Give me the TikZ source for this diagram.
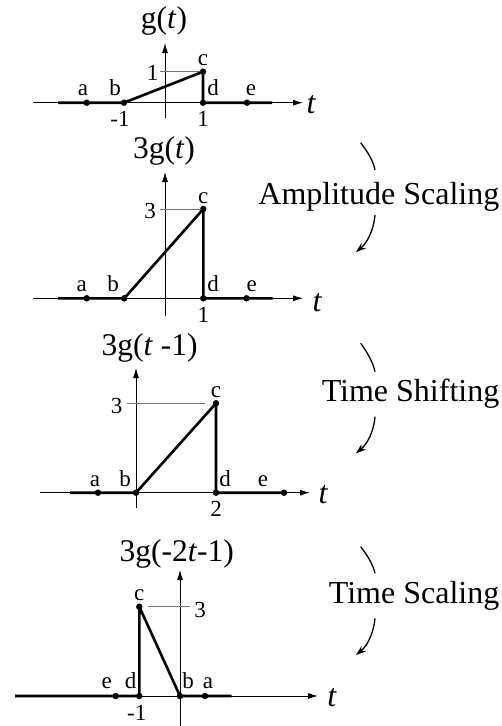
\documentclass[tikz,border=0pt]{standalone}
\usepackage{fontspec}
\setmainfont{Liberation Serif}
\usetikzlibrary{arrows.meta}
\begin{document}
\begin{tikzpicture}[x=1pt,y=-1pt,
  axis/.style={line width=0.9pt,-{Latex[length=10pt,width=6pt]}},
  vaxis/.style={line width=0.9pt,-{Latex[length=10pt,width=6pt]}},
  sig/.style={line width=2.6pt,line join=round},
  ptdot/.style={circle,fill=black,inner sep=0pt,minimum size=6.5pt},
  lbl/.style={font=\fontsize{23}{23}\selectfont,anchor=base,inner sep=0pt},
  ylbl/.style={font=\fontsize{23}{23}\selectfont,anchor=center,inner sep=0pt},
  gtick/.style={draw=black!55,line width=0.9pt},
  ttl/.style={font=\fontsize{31.5}{32}\selectfont,anchor=base,inner sep=0pt},
  tlab/.style={font=\fontsize{32}{32}\selectfont\itshape,anchor=base,inner sep=0pt},
  op/.style={font=\fontsize{32}{32}\selectfont,anchor=base east,inner sep=0pt},
  curv/.style={line width=1.3pt},
  curvar/.style={line width=1.3pt,-{Stealth[length=10pt,width=7pt]}},
]
\useasboundingbox (0,0) rectangle (501,726);

% ---------------- Plot 1: g(t)
\node[ttl] (t1) at (164,28) {g(\textit{t})};
\coordinate (h1s) at (33,102.7);
\coordinate (h1e) at (303,102.7);
\coordinate (v1s) at (165,118);
\coordinate (v1e) at (165,43);
\draw[axis] (h1s) -- (h1e);
\draw[vaxis] (v1s) -- (v1e);
\coordinate (s1l) at (58,102.7);
\coordinate (s1r) at (272,102.7);
\node[ptdot] (a1) at (86.7,102.7) {};
\node[ptdot] (b1) at (124,102.7) {};
\node[ptdot] (c1) at (203,71.7) {};
\node[ptdot] (d1) at (203,102.7) {};
\node[ptdot] (e1) at (247,102.7) {};
\coordinate (g1) at (160,71.7);
\draw[gtick] (g1) -- (c1.center);
\draw[sig] (s1l) -- (b1.center) -- (c1.center) -- (d1.center) -- (s1r);
\node[lbl] (la1) at (83,95) {a};
\node[lbl] (lb1) at (115,95) {b};
\node[lbl] (lc1) at (203,65) {c};
\node[lbl] (ld1) at (213,95) {d};
\node[lbl] (le1) at (251,95) {e};
\node[ylbl] (ly1) at (152.7,73) {1};
\node[lbl] (lx1a) at (120,126.7) {-1};
\node[lbl] (lx1b) at (203,126.7) {1};
\node[tlab] (tt1) at (311,113.5) {t};

% ---------------- Plot 2: 3g(t)
\node[ttl] (t2) at (164,158) {3g(\textit{t})};
\coordinate (h2s) at (33,298.3);
\coordinate (h2e) at (303,298.3);
\coordinate (v2s) at (165,316);
\coordinate (v2e) at (165,172);
\draw[axis] (h2s) -- (h2e);
\draw[vaxis] (v2s) -- (v2e);
\coordinate (s2l) at (58,298.3);
\coordinate (s2r) at (272.7,298.3);
\node[ptdot] (a2) at (86.7,298.3) {};
\node[ptdot] (b2) at (124.3,298.3) {};
\node[ptdot] (c2) at (203.3,209) {};
\node[ptdot] (d2) at (203.3,298.3) {};
\node[ptdot] (e2) at (246.5,298.3) {};
\coordinate (g2) at (160,209);
\draw[gtick] (g2) -- (c2.center);
\draw[sig] (s2l) -- (b2.center) -- (c2.center) -- (d2.center) -- (s2r);
\node[lbl] (la2) at (81.7,291.7) {a};
\node[lbl] (lb2) at (113,291.7) {b};
\node[lbl] (lc2) at (203.3,203.3) {c};
\node[lbl] (ld2) at (213,291.7) {d};
\node[lbl] (le2) at (251.7,291.7) {e};
\node[ylbl] (ly2) at (150,211) {3};
\node[lbl] (lx2) at (203.3,322) {1};
\node[tlab] (tt2) at (317,311) {t};

% ---------------- Plot 3: 3g(t-1)
\node[ttl] (t3) at (149.7,355) {3g(\textit{t} -1)};
\coordinate (h3s) at (40,492.7);
\coordinate (h3e) at (310,492.7);
\coordinate (v3s) at (136,508);
\coordinate (v3e) at (136,368);
\draw[axis] (h3s) -- (h3e);
\draw[vaxis] (v3s) -- (v3e);
\coordinate (s3l) at (70,492.7);
\node[ptdot] (a3) at (98,492.7) {};
\node[ptdot] (b3) at (136,492.7) {};
\node[ptdot] (c3) at (216,403.3) {};
\node[ptdot] (d3) at (216,492.7) {};
\node[ptdot] (e3) at (284,492.7) {};
\coordinate (g3s) at (126.7,403.3);
\coordinate (g3e) at (205,403.3);
\draw[gtick] (g3s) -- (g3e);
\draw[sig] (s3l) -- (b3.center) -- (c3.center) -- (d3.center) -- (e3.center);
\node[lbl] (la3) at (95,486) {a};
\node[lbl] (lb3) at (125,486) {b};
\node[lbl] (lc3) at (216,397.3) {c};
\node[lbl] (ld3) at (225,486) {d};
\node[lbl] (le3) at (263,486) {e};
\node[ylbl] (ly3) at (116.7,406) {3};
\node[lbl] (lx3) at (216,516.7) {2};
\node[tlab] (tt3) at (323,503) {t};

% ---------------- Plot 4: 3g(-2t-1)
\node[ttl] (t4) at (176.7,561.7) {3g(-2\textit{t}-1)};
\coordinate (h4s) at (15,696);
\coordinate (h4e) at (318,696);
\coordinate (v4s) at (180,726);
\coordinate (v4e) at (180,570);
\draw[axis] (h4s) -- (h4e);
\draw[vaxis] (v4s) -- (v4e);
\coordinate (s4l) at (15,696);
\coordinate (s4r) at (231.7,696);
\node[ptdot] (e4) at (115.7,696) {};
\node[ptdot] (d4) at (139.3,696) {};
\node[ptdot] (c4) at (139.3,606.7) {};
\node[ptdot] (b4) at (180,696) {};
\node[ptdot] (a4) at (205,696) {};
\coordinate (g4s) at (148,606.7);
\coordinate (g4e) at (190,606.7);
\draw[gtick] (g4s) -- (g4e);
\draw[sig] (s4l) -- (d4.center) -- (c4.center) -- (b4.center) -- (s4r);
\node[lbl] (le4) at (106.7,688.3) {e};
\node[lbl] (ld4) at (130.7,688.3) {d};
\node[lbl] (lc4) at (139.3,600) {c};
\node[lbl] (lb4) at (188,688.3) {b};
\node[lbl] (la4) at (208,688.3) {a};
\node[ylbl] (ly4) at (200,610) {3};
\node[lbl] (lx4) at (136.7,720) {-1};
\node[tlab] (tt4) at (331.7,706) {t};

% ---------------- Operations
\node[op] (op1) at (499.5,204) {Amplitude Scaling};
\coordinate (p1a) at (360.7,142.7);
\coordinate (p1b) at (375,170);
\coordinate (p1c) at (375,215);
\coordinate (p1d) at (356,252);
\draw[curv] (p1a) .. controls (367,151) and (373,160) .. (p1b);
\draw[curvar] (p1c) .. controls (373.5,231) and (367,243) .. (p1d);

\node[op] (op2) at (499.5,401) {Time Shifting};
\coordinate (p2a) at (360.7,343.3);
\coordinate (p2b) at (375,371.7);
\coordinate (p2c) at (375,416.7);
\coordinate (p2d) at (356,453.3);
\draw[curv] (p2a) .. controls (367,352) and (373,362) .. (p2b);
\draw[curvar] (p2c) .. controls (373.5,433) and (367,444) .. (p2d);

\node[op] (op3) at (499.5,603) {Time Scaling};
\coordinate (p3a) at (360.7,546.7);
\coordinate (p3b) at (375,573.3);
\coordinate (p3c) at (375,618.3);
\coordinate (p3d) at (356,655);
\draw[curv] (p3a) .. controls (367,555) and (373,564) .. (p3b);
\draw[curvar] (p3c) .. controls (373.5,634) and (367,646) .. (p3d);
\end{tikzpicture}
\end{document}
